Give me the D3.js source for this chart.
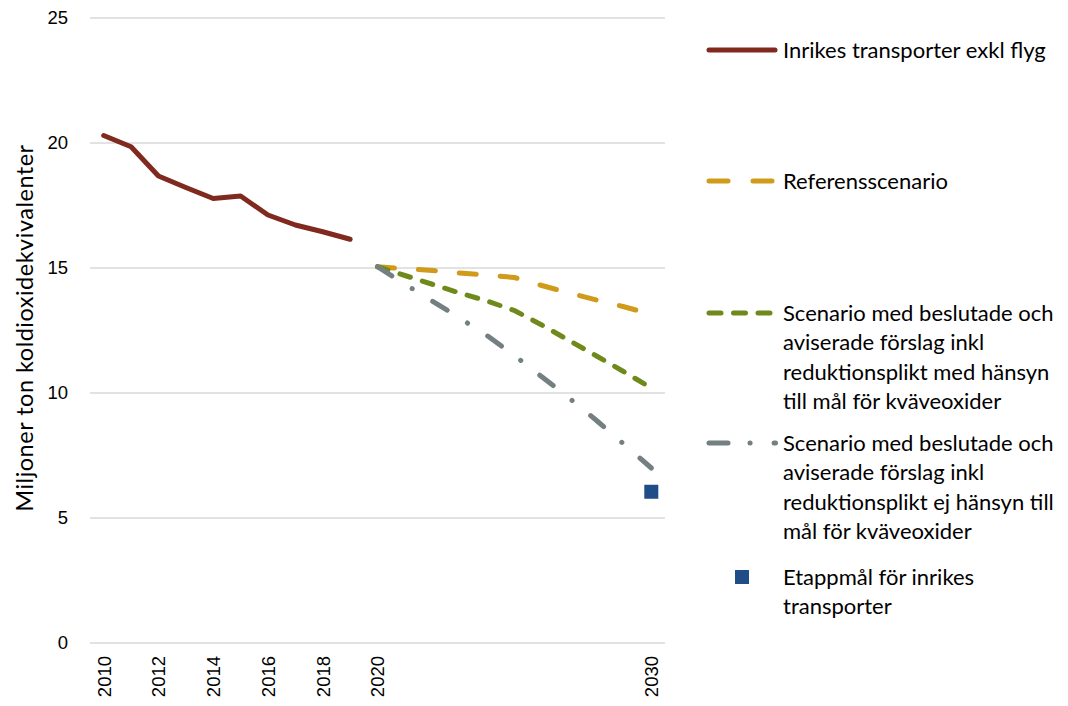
<!DOCTYPE html>
<html>
<head>
<meta charset="utf-8">
<script src="https://cdn.jsdelivr.net/npm/d3@7"></script>
<style>
  body { margin: 0; background: #fff; }
  svg text { fill: #000; }
</style>
</head>
<body>
<div id="chart"></div>
<script>
// years on the category axis
var years = d3.range(2010, 2031);
var tickYears = [2010, 2012, 2014, 2016, 2018, 2020, 2030];

// historical emissions 2010-2019
var histYears = [2010, 2011, 2012, 2013, 2014, 2015, 2016, 2017, 2018, 2019];
var histValues = [20.3, 19.85, 18.68, 18.22, 17.78, 17.88, 17.12, 16.72, 16.45, 16.15];

// scenarios 2020-2030
var scenYears = [2020, 2021, 2022, 2023, 2024, 2025, 2026, 2027, 2028, 2029, 2030];
var refValues = [15.05, 14.97, 14.9, 14.8, 14.72, 14.62, 14.3, 14.0, 13.72, 13.45, 13.15];
var nox = [15.05, 14.7, 14.35, 14.0, 13.68, 13.3, 12.72, 12.1, 11.48, 10.85, 10.2];
var noNox = [15.05, 14.35, 13.68, 13.0, 12.3, 11.5, 10.65, 9.8, 8.9, 7.95, 7.0];

// target
var targetYear = 2030;
var targetValue = 6.05;

var yTicks = [0, 5, 10, 15, 20, 25];

var legendLabels = [
  ["Inrikes transporter exkl flyg"],
  ["Referensscenario"],
  ["Scenario med beslutade och", "aviserade förslag inkl", "reduktionsplikt med hänsyn", "till mål för kväveoxider"],
  ["Scenario med beslutade och", "aviserade förslag inkl", "reduktionsplikt ej hänsyn till", "mål för kväveoxider"],
  ["Etappmål för inrikes", "transporter"]
];

var colors = {
  hist: "#80291f",
  ref: "#d09a1b",
  nox: "#6f8a1b",
  noNox: "#737f80",
  target: "#1f4d87",
  grid: "#d9d9d9"
};

var W = 1068, H = 706;
var svg = d3.select("#chart").append("svg")
  .attr("width", W).attr("height", H)
  .style("font-family", "'Liberation Sans', Arial, sans-serif");

var x = d3.scalePoint().domain(years).range([90, 665]).padding(0.5);
var y = d3.scaleLinear().domain([0, 25]).range([643, 18]);

// gridlines
svg.append("g").selectAll("line")
  .data(yTicks)
  .enter().append("line")
  .attr("x1", 90).attr("x2", 665)
  .attr("y1", function (d) { return y(d); })
  .attr("y2", function (d) { return y(d); })
  .attr("stroke", colors.grid)
  .attr("stroke-width", 1.5);

// y axis labels
var yAxis = svg.append("g")
  .attr("transform", "translate(90,0)")
  .call(d3.axisLeft(y).tickValues(yTicks).tickSize(0).tickPadding(22));
yAxis.select(".domain").remove();
yAxis.selectAll("text")
  .style("font-size", "18.5px")
  .style("font-family", "'Liberation Sans', Arial, sans-serif")
  .attr("fill", "#000");

// x axis labels
var xAxis = svg.append("g")
  .attr("transform", "translate(0,643)")
  .call(d3.axisBottom(x).tickValues(tickYears).tickSize(0));
xAxis.select(".domain").remove();
xAxis.selectAll("text")
  .attr("transform", "rotate(-90)")
  .attr("text-anchor", "end")
  .attr("x", -13)
  .attr("y", 0)
  .attr("dy", "0.35em")
  .style("font-size", "18.5px")
  .style("font-family", "'Liberation Sans', Arial, sans-serif")
  .attr("fill", "#000");

// y title
svg.append("text")
  .attr("transform", "translate(33,328) rotate(-90)")
  .attr("text-anchor", "middle")
  .style("font-family", "Lato, sans-serif")
  .style("font-size", "23.5px")
  .style("letter-spacing", "0.5px")
  .text("Miljoner ton koldioxidekvivalenter");

var line = d3.line()
  .x(function (d) { return x(d[0]); })
  .y(function (d) { return y(d[1]); });

function zip(a, b) { return a.map(function (v, i) { return [v, b[i]]; }); }

var series = [
  { data: zip(histYears, histValues), color: colors.hist, dash: null, w: 5 },
  { data: zip(scenYears, refValues), color: colors.ref, dash: "17 24", w: 5 },
  { data: zip(scenYears, nox), color: colors.nox, dash: "11 12.5", w: 5 },
  { data: zip(scenYears, noNox), color: colors.noNox, dash: "17 24 0.1 24", w: 5 }
];

svg.append("g").selectAll("path")
  .data(series)
  .enter().append("path")
  .attr("d", function (d) { return line(d.data); })
  .attr("fill", "none")
  .attr("stroke", function (d) { return d.color; })
  .attr("stroke-width", function (d) { return d.w; })
  .attr("stroke-linecap", "round")
  .attr("stroke-linejoin", "round")
  .attr("stroke-dasharray", function (d) { return d.dash; });

// target marker
svg.append("rect")
  .attr("x", x(targetYear) - 7)
  .attr("y", y(targetValue) - 7)
  .attr("width", 14).attr("height", 14)
  .attr("fill", colors.target);

// legend
var legendFont = "Lato, 'Open Sans', sans-serif";
var legendY = [50, 181, 313, 443, 577];
var lineH = 29.5;
var lg = svg.append("g");

function legendLine(yy, color, dash, x2) {
  lg.append("line")
    .attr("x1", 709).attr("x2", x2)
    .attr("y1", yy).attr("y2", yy)
    .attr("stroke", color)
    .attr("stroke-width", 5)
    .attr("stroke-linecap", "round")
    .attr("stroke-dasharray", dash);
}
legendLine(legendY[0], colors.hist, null, 775);
legendLine(legendY[1], colors.ref, "19 25", 775);
legendLine(legendY[2], colors.nox, "12 12.5", 775);
legendLine(legendY[3], colors.noNox, "19 22 0.1 24", 775.5);
lg.append("rect")
  .attr("x", 735).attr("y", legendY[4] - 7)
  .attr("width", 14).attr("height", 14)
  .attr("fill", colors.target);

legendLabels.forEach(function (lines, i) {
  var t = lg.append("text")
    .attr("x", 783)
    .attr("y", legendY[i])
    .style("font-family", legendFont)
    .style("font-size", "22px");
  lines.forEach(function (s, j) {
    t.append("tspan")
      .attr("x", 783)
      .attr("y", legendY[i] + j * lineH)
      .attr("dy", "0.35em")
      .text(s);
  });
});
</script>
</body>
</html>
